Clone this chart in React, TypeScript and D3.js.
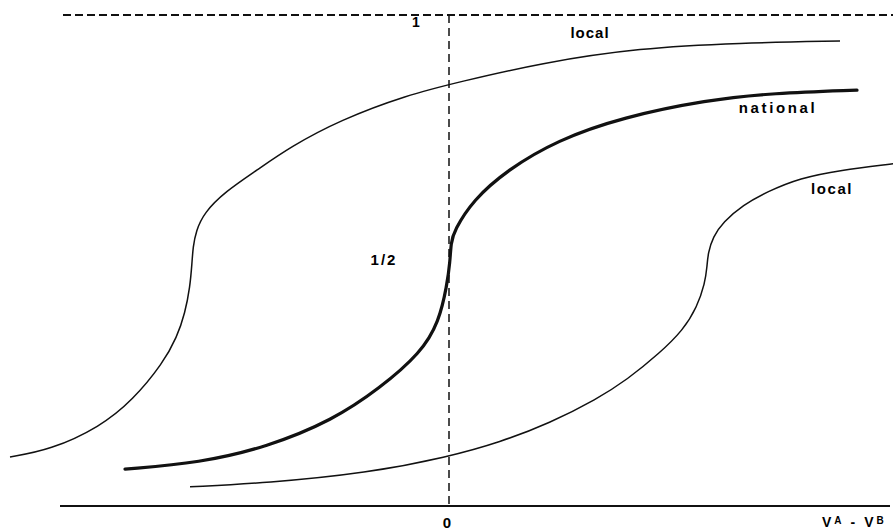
import React from 'react';
import * as d3 from 'd3';

// curve samples: x = V^A - V^B (arbitrary units), y = share
const localHighX = [-4.39, -3.99, -3.49, -3.16, -2.86, -2.72, -2.64, -2.59, -2.57, -2.56, -2.53, -2.45, -2.24, -1.92, -1.59, -1.09, -0.42, 0.11, 0.91, 1.91, 2.91, 3.91];
const localHighY = [0.10, 0.114, 0.161, 0.216, 0.291, 0.344, 0.393, 0.446, 0.495, 0.527, 0.56, 0.597, 0.64, 0.684, 0.731, 0.786, 0.837, 0.864, 0.902, 0.933, 0.943, 0.947];

const nationalX = [-3.24, -2.49, -1.82, -1.16, -0.69, -0.28, -0.1, -0.02, 0.01, 0.02, 0.05, 0.24, 0.58, 1.08, 1.74, 2.58, 3.24, 4.08];
const nationalY = [0.075, 0.088, 0.12, 0.175, 0.24, 0.312, 0.375, 0.45, 0.497, 0.536, 0.56, 0.623, 0.684, 0.745, 0.792, 0.827, 0.841, 0.847];

const localLowX = [-2.59, -1.82, -0.82, -0.01, 0.51, 1.01, 1.48, 1.78, 2.11, 2.34, 2.48, 2.56, 2.58, 2.59, 2.64, 2.74, 2.94, 3.18, 3.51, 3.91, 4.44, 4.51];
const localLowY = [0.039, 0.047, 0.067, 0.10, 0.13, 0.169, 0.218, 0.257, 0.312, 0.358, 0.405, 0.454, 0.487, 0.515, 0.548, 0.578, 0.613, 0.64, 0.668, 0.684, 0.697, 0.699];

const yTickLabels = ['1/2', '1'];
const xTickLabels = ['0'];

const width = 893, height = 532;
const font = '"Liberation Sans", Arial, sans-serif';

const App = () => {
  const x = d3.scaleLinear().domain([-4.5, 4.45]).range([-1, 894]);
  const y = d3.scaleLinear().domain([0, 1]).range([506, 15]);

  const line = d3.line<[number, number]>()
    .x(d => x(d[0]))
    .y(d => y(d[1]))
    .curve(d3.curveBasis);

  const zip = (xs: number[], ys: number[]) => xs.map((v, i) => [v, ys[i]] as [number, number]);

  const labelStyle = { fontFamily: font, fontWeight: 'bold' as const, fontSize: 15 };

  return (
    <svg width={width} height={height} style={{ position: 'absolute', left: 0, top: 0, background: '#fff' }}>
      {/* top reference line at 1 */}
      <line x1={63} x2={width} y1={y(1)} y2={y(1)} stroke="#111" strokeWidth={1.8} strokeDasharray="8,4" />
      {/* vertical reference at 0 */}
      <line x1={x(0)} x2={x(0)} y1={y(1)} y2={y(0)} stroke="#111" strokeWidth={1.5} strokeDasharray="8,5" />
      {/* horizontal axis */}
      <line x1={60} x2={890} y1={y(0)} y2={y(0)} stroke="#111" strokeWidth={2} />

      <path d={line(zip(localHighX, localHighY)) || ''} fill="none" stroke="#111" strokeWidth={1.5} />
      <path d={line(zip(nationalX, nationalY)) || ''} fill="none" stroke="#111" strokeWidth={3.2} strokeLinecap="round" />
      <path d={line(zip(localLowX, localLowY)) || ''} fill="none" stroke="#111" strokeWidth={1.5} />

      <text x={x(1.41)} y={y(0.953)} textAnchor="middle" letterSpacing={1} {...labelStyle}>local</text>
      <text x={x(3.29)} y={y(0.8)} textAnchor="middle" letterSpacing={2.6} {...labelStyle}>national</text>
      <text x={x(3.83)} y={y(0.635)} textAnchor="middle" letterSpacing={1.6} {...labelStyle}>local</text>

      {/* axis values */}
      <text x={x(-0.65)} y={y(0.5) + 4} textAnchor="middle" letterSpacing={2} {...labelStyle}>{yTickLabels[0]}</text>
      <text x={x(-0.33)} y={y(1) + 12} textAnchor="middle" {...labelStyle} fontSize={14}>{yTickLabels[1]}</text>
      <text x={x(0) - 2} y={y(0) + 22} textAnchor="middle" {...labelStyle}>{xTickLabels[0]}</text>

      <text x={822} y={527} fontFamily={font} fontWeight="bold" fontSize={14} letterSpacing={1}>
        <tspan>V</tspan>
        <tspan fontSize={10} dx={2} dy={-3}>A</tspan>
        <tspan dx={8} dy={3}>-</tspan>
        <tspan dx={8}>V</tspan>
        <tspan fontSize={10} dx={2} dy={-3}>B</tspan>
      </text>
    </svg>
  );
};

export default App;
